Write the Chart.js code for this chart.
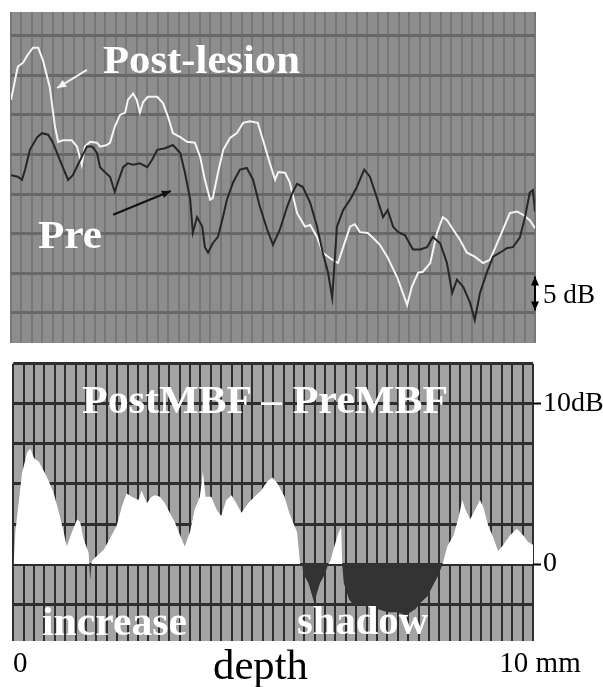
<!DOCTYPE html>
<html>
<head>
<meta charset="utf-8">
<script src="https://cdn.jsdelivr.net/npm/chart.js@4.4.1/dist/chart.umd.min.js"></script>
<style>
html, body { margin: 0; padding: 0; background: #fff; }
#wrap { position: relative; width: 603px; height: 687px; overflow: hidden; }
canvas { position: absolute; left: 0; }
#topChart { top: 0; }
#diffChart { top: 345px; }
.lbl { position: absolute; display: block; white-space: nowrap; line-height: 1;
       font-family: "Liberation Serif", "Times New Roman", serif; transform-origin: 0 0; }
</style>
</head>
<body>
<div id="wrap">
  <canvas id="topChart" width="603" height="345"></canvas>
  <canvas id="diffChart" width="603" height="342"></canvas>
</div>
<script>
// depth in mm, level in dB
const postDepth = [0, 0.13, 0.23, 0.32, 0.42, 0.52, 0.61, 0.74, 0.84, 0.90, 0.99, 1.16, 1.26, 1.35, 1.41, 1.51, 1.64, 1.70, 1.83, 1.89,
  1.98, 2.08, 2.18, 2.23, 2.33, 2.40, 2.46, 2.52, 2.61, 2.79, 2.90, 3.00, 3.09, 3.23, 3.36, 3.51, 3.61, 3.70, 3.80, 3.85,
  3.95, 4.05, 4.18, 4.31, 4.43, 4.56, 4.71, 4.81, 4.94, 5.04, 5.10, 5.23, 5.32, 5.46, 5.61, 5.71, 5.84, 5.95, 6.09, 6.24,
  6.34, 6.47, 6.56, 6.66, 6.81, 6.95, 7.04, 7.18, 7.37, 7.48, 7.56, 7.65, 7.77, 7.86, 8.00, 8.13, 8.24, 8.32, 8.44, 8.57,
  8.70, 8.85, 9.01, 9.14, 9.33, 9.52, 9.66, 9.77, 9.90, 10.0];
const postDb = [26.9, 31.1, 31.6, 32.6, 33.5, 33.5, 31.9, 28.5, 23.5, 21.6, 21.8, 21.8, 21.0, 18.7, 21.0, 21.6, 21.5, 21.0, 21.2, 21.5,
  23.5, 25.0, 25.3, 26.9, 27.7, 26.9, 25.3, 26.6, 27.3, 27.3, 26.5, 24.7, 22.7, 22.2, 21.6, 21.5, 19.7, 16.8, 14.3, 14.5,
  17.7, 20.6, 22.1, 22.7, 24.0, 24.2, 24.0, 21.8, 18.9, 16.8, 17.8, 17.7, 16.5, 12.6, 10.9, 11.1, 9.6, 7.6, 6.9, 6.3,
  8.3, 10.9, 11.2, 10.2, 10.1, 9.2, 8.6, 7.1, 4.5, 2.5, 1.0, 3.3, 5.1, 5.2, 6.3, 10.1, 12.1, 11.7, 10.5, 9.2,
  7.6, 7.1, 6.3, 6.7, 9.6, 12.6, 12.8, 12.4, 11.7, 10.7];

const preDepth = [0, 0.13, 0.21, 0.27, 0.36, 0.50, 0.59, 0.71, 0.80, 0.97, 1.09, 1.18, 1.32, 1.45, 1.55, 1.64, 1.70, 1.79, 1.89, 1.98,
  2.04, 2.14, 2.23, 2.33, 2.46, 2.60, 2.69, 2.79, 2.94, 3.09, 3.23, 3.32, 3.42, 3.47, 3.55, 3.65, 3.70, 3.76, 3.85, 3.95,
  4.03, 4.12, 4.24, 4.37, 4.50, 4.62, 4.75, 4.89, 5.00, 5.13, 5.27, 5.38, 5.46, 5.57, 5.71, 5.84, 5.95, 6.05, 6.13, 6.22,
  6.34, 6.47, 6.60, 6.74, 6.85, 6.98, 7.10, 7.19, 7.29, 7.39, 7.52, 7.67, 7.81, 7.94, 8.05, 8.19, 8.32, 8.42, 8.51, 8.63,
  8.76, 8.85, 8.95, 9.08, 9.20, 9.33, 9.47, 9.58, 9.71, 9.81, 9.90, 9.96, 10.0];
const preDb = [17.4, 17.2, 16.8, 18.1, 20.6, 22.2, 22.7, 22.5, 21.5, 18.7, 16.8, 17.4, 19.3, 21.0, 21.0, 20.2, 18.4, 17.8, 17.2, 15.3,
  16.5, 18.4, 18.9, 18.7, 18.9, 18.4, 19.3, 20.6, 20.8, 21.2, 20.2, 17.7, 14.3, 10.1, 12.1, 10.9, 8.3, 7.6, 8.8, 9.6,
  11.7, 14.3, 16.5, 18.1, 18.3, 16.8, 13.4, 10.5, 8.6, 10.5, 13.4, 15.3, 16.3, 15.9, 13.9, 10.9, 7.6, 5.1, 1.9, 10.9,
  13.0, 14.3, 15.9, 18.1, 17.2, 14.6, 12.1, 13.0, 10.9, 10.2, 9.8, 8.0, 8.0, 8.3, 9.6, 8.8, 6.3, 2.5, 4.2, 3.3,
  1.3, -0.9, 2.5, 5.1, 7.1, 7.6, 8.2, 8.3, 9.5, 12.1, 15.2, 15.5, 12.8];

// PostMBF - PreMBF
const diffDepth = [0, 0.04, 0.17, 0.27, 0.33, 0.40, 0.49, 0.59, 0.68, 0.78, 0.88, 0.97, 1.03, 1.13, 1.23, 1.29, 1.35, 1.45, 1.48, 1.51,
  1.61, 1.74, 1.86, 1.99, 2.09, 2.18, 2.28, 2.41, 2.47, 2.57, 2.66, 2.73, 2.82, 2.92, 3.01, 3.11, 3.21, 3.30, 3.40, 3.49,
  3.59, 3.65, 3.70, 3.81, 3.91, 4.00, 4.10, 4.20, 4.29, 4.39, 4.52, 4.64, 4.77, 4.90, 4.99, 5.09, 5.22, 5.31, 5.41, 5.46,
  5.52, 5.56, 5.58, 5.68, 5.79, 5.90, 6.00, 6.06, 6.10, 6.17, 6.25, 6.31, 6.33, 6.34, 6.36, 6.46, 6.55, 6.69, 6.82, 7.01,
  7.20, 7.39, 7.55, 7.74, 7.84, 7.97, 8.08, 8.18, 8.26, 8.35, 8.47, 8.56, 8.64, 8.70, 8.79, 8.89, 8.98, 9.04, 9.14, 9.23,
  9.33, 9.43, 9.56, 9.69, 9.81, 9.90, 10.0];
const diffDb = [-0.5, 2.0, 5.7, 7.0, 7.2, 6.6, 6.4, 5.8, 5.2, 4.4, 3.2, 2.0, 1.1, 2.0, 2.8, 2.6, 1.6, 0.7, -1.0, 0.2,
  0.5, 0.9, 1.6, 2.4, 3.6, 4.4, 4.2, 4.0, 4.6, 3.8, 4.2, 4.3, 4.2, 3.8, 3.2, 2.6, 1.8, 1.1, 2.0, 3.4,
  4.2, 5.8, 4.2, 4.2, 3.4, 3.0, 4.0, 4.3, 3.8, 3.2, 3.8, 4.2, 4.6, 5.2, 5.4, 5.0, 4.2, 3.2, 2.4, 2.0,
  0, 0, -0.6, -1.2, -2.4, -1.2, -0.6, 0, 0.2, 1.0, 1.9, 2.3, 0, 0, -1.2, -2.2, -2.6, -2.5, -2.7, -2.8,
  -3.0, -3.0, -3.2, -2.8, -2.4, -2.0, -1.3, -0.7, 0, 1.1, 1.8, 2.8, 4.0, 3.4, 2.8, 3.4, 4.0, 3.6, 2.4, 1.7,
  0.8, 1.2, 1.8, 2.2, 1.8, 1.4, 1.2];

const depthTicks = [0, 10];
const depthTickText = ['0', '10 mm'];
const diffTicks = [0, 10];
const diffTickText = ['0', '10dB'];

const gridDepth = Array.from({ length: 51 }, (_, i) => +(i * 0.2).toFixed(1));
const gridTopDb = [0, 5, 10, 15, 20, 25, 30, 35];
const gridDiffDb = [-2.5, 0, 2.5, 5, 7.5, 10, 12.5];

const serif = '"Liberation Serif", "Times New Roman", serif';

function pts(xs, ys) {
  return xs.map((x, i) => ({ x: x, y: ys[i] }));
}
function tickText(vals, texts, v) {
  const i = vals.findIndex(t => Math.abs(t - v) < 1e-6);
  return i < 0 ? '' : texts[i];
}

// gray panel behind the grid
const panelBg = {
  id: 'panelBg',
  beforeDraw(chart, args, opts) {
    const { ctx, chartArea: a } = chart;
    ctx.save();
    ctx.fillStyle = opts.color;
    ctx.fillRect(a.left, a.top, a.width, a.height);
    ctx.restore();
  }
};

// annotation arrows, given in data coordinates
const arrows = {
  id: 'arrows',
  afterDatasetsDraw(chart, args, opts) {
    const { ctx, scales: { x, y } } = chart;
    const head = (x0, y0, x1, y1, len, half) => {
      const ang = Math.atan2(y1 - y0, x1 - x0);
      ctx.beginPath();
      ctx.moveTo(x1, y1);
      ctx.lineTo(x1 - len * Math.cos(ang) + half * Math.sin(ang), y1 - len * Math.sin(ang) - half * Math.cos(ang));
      ctx.lineTo(x1 - len * Math.cos(ang) - half * Math.sin(ang), y1 - len * Math.sin(ang) + half * Math.cos(ang));
      ctx.closePath();
      ctx.fill();
    };
    ctx.save();
    opts.items.forEach(a => {
      const x0 = x.getPixelForValue(a.from[0]), y0 = y.getPixelForValue(a.from[1]);
      const x1 = x.getPixelForValue(a.to[0]), y1 = y.getPixelForValue(a.to[1]);
      ctx.strokeStyle = a.color;
      ctx.fillStyle = a.color;
      ctx.lineWidth = 2;
      ctx.beginPath();
      ctx.moveTo(x0, y0);
      ctx.lineTo(x1, y1);
      ctx.stroke();
      head(x0, y0, x1, y1, 9, 4);
      if (a.both) head(x1, y1, x0, y0, 9, 4);
    });
    ctx.restore();
  }
};

new Chart(document.getElementById('topChart'), {
  type: 'line',
  data: {
    datasets: [
      { label: 'Pre', data: pts(preDepth, preDb), borderColor: '#262626', borderWidth: 2 },
      { label: 'Post-lesion', data: pts(postDepth, postDb), borderColor: '#f4f4f4', borderWidth: 2 }
    ]
  },
  options: {
    responsive: false,
    animation: false,
    events: [],
    layout: { padding: { left: 11, top: 12, right: 68, bottom: 2 } },
    elements: { point: { radius: 0 }, line: { tension: 0 } },
    plugins: {
      legend: { display: false },
      tooltip: { enabled: false },
      panelBg: { color: '#8d8d8d' },
      arrows: {
        items: [
          { from: [1.45, 30.7], to: [0.88, 28.4], color: '#f4f4f4' },
          { from: [1.95, 12.4], to: [3.05, 15.4], color: '#111' },
          { from: [10.0, 0.3], to: [10.0, 4.6], color: '#000', both: true }
        ]
      }
    },
    scales: {
      x: {
        type: 'linear', min: 0, max: 10,
        afterBuildTicks: s => { s.ticks = gridDepth.map(v => ({ value: v })); },
        afterFit: s => { s.height = 0; },
        ticks: { display: false },
        grid: { color: '#777777', lineWidth: 2, drawTicks: false },
        border: { display: false }
      },
      y: {
        type: 'linear', min: -3.8, max: 38.0,
        afterBuildTicks: s => { s.ticks = gridTopDb.map(v => ({ value: v })); },
        afterFit: s => { s.width = 0; },
        ticks: { display: false },
        grid: { color: '#686868', lineWidth: 3, drawTicks: false },
        border: { display: false }
      }
    }
  },
  plugins: [panelBg, arrows]
});

new Chart(document.getElementById('diffChart'), {
  type: 'line',
  data: {
    datasets: [{
      label: 'PostMBF - PreMBF',
      data: pts(diffDepth, diffDb),
      borderColor: 'rgba(0,0,0,0)',
      borderWidth: 0,
      fill: { target: 'origin', above: '#ffffff', below: '#333333' }
    }]
  },
  options: {
    responsive: false,
    animation: false,
    events: [],
    layout: { padding: { left: 11, top: 6, right: 0, bottom: 0 } },
    elements: { point: { radius: 0 }, line: { tension: 0 } },
    plugins: {
      legend: { display: false },
      tooltip: { enabled: false },
      panelBg: { color: '#a3a3a3' }
    },
    scales: {
      x: {
        type: 'linear', min: 0, max: 10,
        afterBuildTicks: s => { s.ticks = gridDepth.map(v => ({ value: v })); },
        afterFit: s => { s.height = 46; },
        ticks: {
          autoSkip: false, maxRotation: 0, labelOffset: 7, padding: 6,
          color: '#000', font: { family: serif, size: 29 },
          callback: v => tickText(depthTicks, depthTickText, v)
        },
        grid: { color: '#2e2e2e', lineWidth: 2, drawTicks: false },
        border: { display: false }
      },
      y: {
        type: 'linear', position: 'right', min: -4.8, max: 12.5,
        afterBuildTicks: s => { s.ticks = gridDiffDb.map(v => ({ value: v })); },
        afterFit: s => { s.width = 70; },
        ticks: {
          padding: 2, color: '#000', font: { family: serif, size: 28 },
          callback: v => tickText(diffTicks, diffTickText, v)
        },
        grid: {
          color: '#2e2e2e', lineWidth: 3, tickLength: 8, tickWidth: 2,
          tickColor: c => (c.tick && tickText(diffTicks, diffTickText, c.tick.value)) ? '#000' : 'rgba(0,0,0,0)'
        },
        border: { display: false }
      }
    }
  },
  plugins: [panelBg]
});

// text labels: x = left edge, base = baseline, w = target width
const labels = [
  { t: 'Post-lesion', x: 103, base: 73, size: 41, w: 197, bold: true, color: '#fff' },
  { t: 'Pre', x: 38, base: 248, size: 41, w: 64, bold: true, color: '#fff' },
  { t: 'PostMBF \u2013 PreMBF', x: 82, base: 413, size: 41, w: 366, bold: true, color: '#fff' },
  { t: 'increase', x: 42, base: 635, size: 41, w: 145, bold: true, color: '#fff' },
  { t: 'shadow', x: 297, base: 634, size: 41, w: 131, bold: true, color: '#fff' },
  { t: '5 dB', x: 543, base: 303, size: 28, w: 52, bold: false, color: '#000' },
  { t: 'depth', x: 213, base: 679, size: 42, w: 95, bold: false, color: '#000' }
];
const wrap = document.getElementById('wrap');
labels.forEach(l => {
  const el = document.createElement('span');
  el.className = 'lbl';
  el.textContent = l.t;
  el.style.fontSize = l.size + 'px';
  el.style.fontWeight = l.bold ? 'bold' : 'normal';
  el.style.color = l.color;
  el.style.left = l.x + 'px';
  el.style.top = (l.base - 0.8375 * l.size) + 'px';
  wrap.appendChild(el);
  const w = el.getBoundingClientRect().width;
  if (w > 0) el.style.transform = 'scaleX(' + (l.w / w).toFixed(3) + ')';
});
</script>
</body>
</html>
